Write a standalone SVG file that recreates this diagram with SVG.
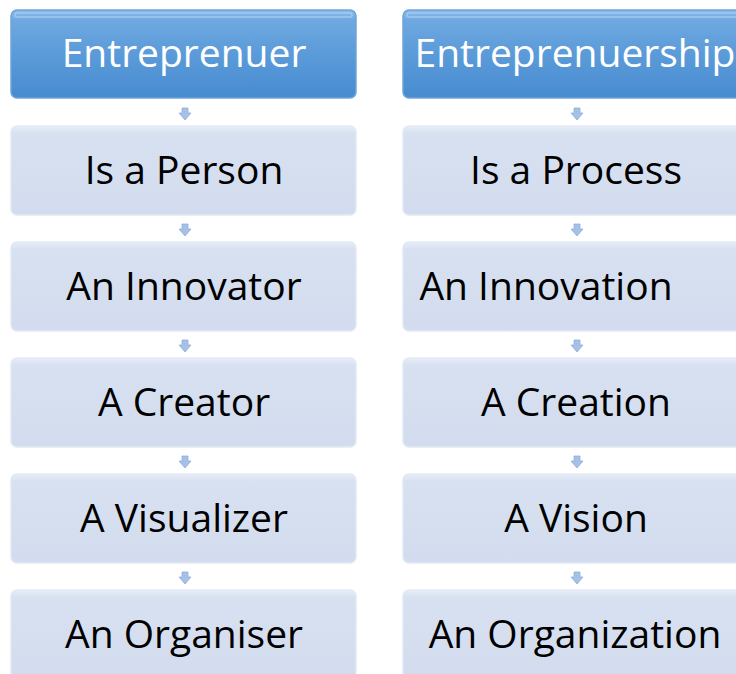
<svg xmlns="http://www.w3.org/2000/svg" width="736" height="674" viewBox="0 0 736 674">
  <defs>
    <linearGradient id="headFill" x1="0" y1="0" x2="0" y2="1">
      <stop offset="0" stop-color="#8dbbe8"/>
      <stop offset="0.12" stop-color="#6ea8e0"/>
      <stop offset="0.5" stop-color="#5b9bd9"/>
      <stop offset="1" stop-color="#478bd0"/>
    </linearGradient>
    <linearGradient id="itemFill" x1="0" y1="0" x2="0" y2="1">
      <stop offset="0" stop-color="#e8eef8"/>
      <stop offset="0.08" stop-color="#d8e1f1"/>
      <stop offset="1" stop-color="#d2dcee"/>
    </linearGradient>
    <path id="arrow" d="M-3,-6 H3 V-1 H6 L0,6 L-6,-1 H-3 Z"/>
  </defs>
  <style>
    .head rect.box { fill: url(#headFill); stroke: #6fa4da; stroke-width: 1.5; }
    .head rect.shine { fill: none; stroke: #a9d0f2; stroke-width: 1.5; opacity: 0.8; }
    .item rect.box { fill: url(#itemFill); stroke: #e2e9f5; stroke-width: 1.5; }
    .label { font-family: "Open Sans", "Liberation Sans", sans-serif; font-size: 39px; text-anchor: middle; }
    .head .label { fill: #ffffff; }
    .item .label { fill: #000000; }
    .conn use { fill: #a6c0e6; stroke: #8fb0de; stroke-width: 0.8; }
  </style>
  <rect width="736" height="674" fill="#ffffff"/>

  <!-- left column -->
  <g id="entrepreneur" class="head">
    <rect class="box" x="11" y="10" width="345" height="88" rx="6"/>
    <rect class="shine" x="15" y="13" width="337" height="4" rx="2"/>
    <text class="label" x="184" y="67">Entreprenuer</text>
  </g>
  <g id="person" class="item">
    <rect class="box" x="11" y="126" width="345" height="89" rx="6"/>
    <text class="label" x="184" y="184">Is a Person</text>
  </g>
  <g id="innovator" class="item">
    <rect class="box" x="11" y="242" width="345" height="89" rx="6"/>
    <text class="label" x="184" y="300">An Innovator</text>
  </g>
  <g id="creator" class="item">
    <rect class="box" x="11" y="358" width="345" height="89" rx="6"/>
    <text class="label" x="184" y="416">A Creator</text>
  </g>
  <g id="visualizer" class="item">
    <rect class="box" x="11" y="474" width="345" height="89" rx="6"/>
    <text class="label" x="184" y="532">A Visualizer</text>
  </g>
  <g id="organiser" class="item">
    <rect class="box" x="11" y="590" width="345" height="89" rx="6"/>
    <text class="label" x="184" y="648">An Organiser</text>
  </g>

  <!-- right column -->
  <g id="entrepreneurship" class="head">
    <rect class="box" x="403" y="10" width="348" height="88" rx="6"/>
    <rect class="shine" x="407" y="13" width="340" height="4" rx="2"/>
    <text class="label" x="575" y="67">Entreprenuership</text>
  </g>
  <g id="process" class="item">
    <rect class="box" x="403" y="126" width="348" height="89" rx="6"/>
    <text class="label" x="576" y="184">Is a Process</text>
  </g>
  <g id="innovation" class="item">
    <rect class="box" x="403" y="242" width="348" height="89" rx="6"/>
    <text class="label" x="546" y="300">An Innovation</text>
  </g>
  <g id="creation" class="item">
    <rect class="box" x="403" y="358" width="348" height="89" rx="6"/>
    <text class="label" x="576" y="416">A Creation</text>
  </g>
  <g id="vision" class="item">
    <rect class="box" x="403" y="474" width="348" height="89" rx="6"/>
    <text class="label" x="576" y="532">A Vision</text>
  </g>
  <g id="organization" class="item">
    <rect class="box" x="403" y="590" width="348" height="89" rx="6"/>
    <text class="label" x="575" y="648">An Organization</text>
  </g>

  <!-- connectors -->
  <g id="connectors" class="conn">
    <use href="#arrow" x="185" y="114"/>
    <use href="#arrow" x="185" y="230"/>
    <use href="#arrow" x="185" y="346"/>
    <use href="#arrow" x="185" y="462"/>
    <use href="#arrow" x="185" y="578"/>
    <use href="#arrow" x="577" y="114"/>
    <use href="#arrow" x="577" y="230"/>
    <use href="#arrow" x="577" y="346"/>
    <use href="#arrow" x="577" y="462"/>
    <use href="#arrow" x="577" y="578"/>
  </g>
</svg>
